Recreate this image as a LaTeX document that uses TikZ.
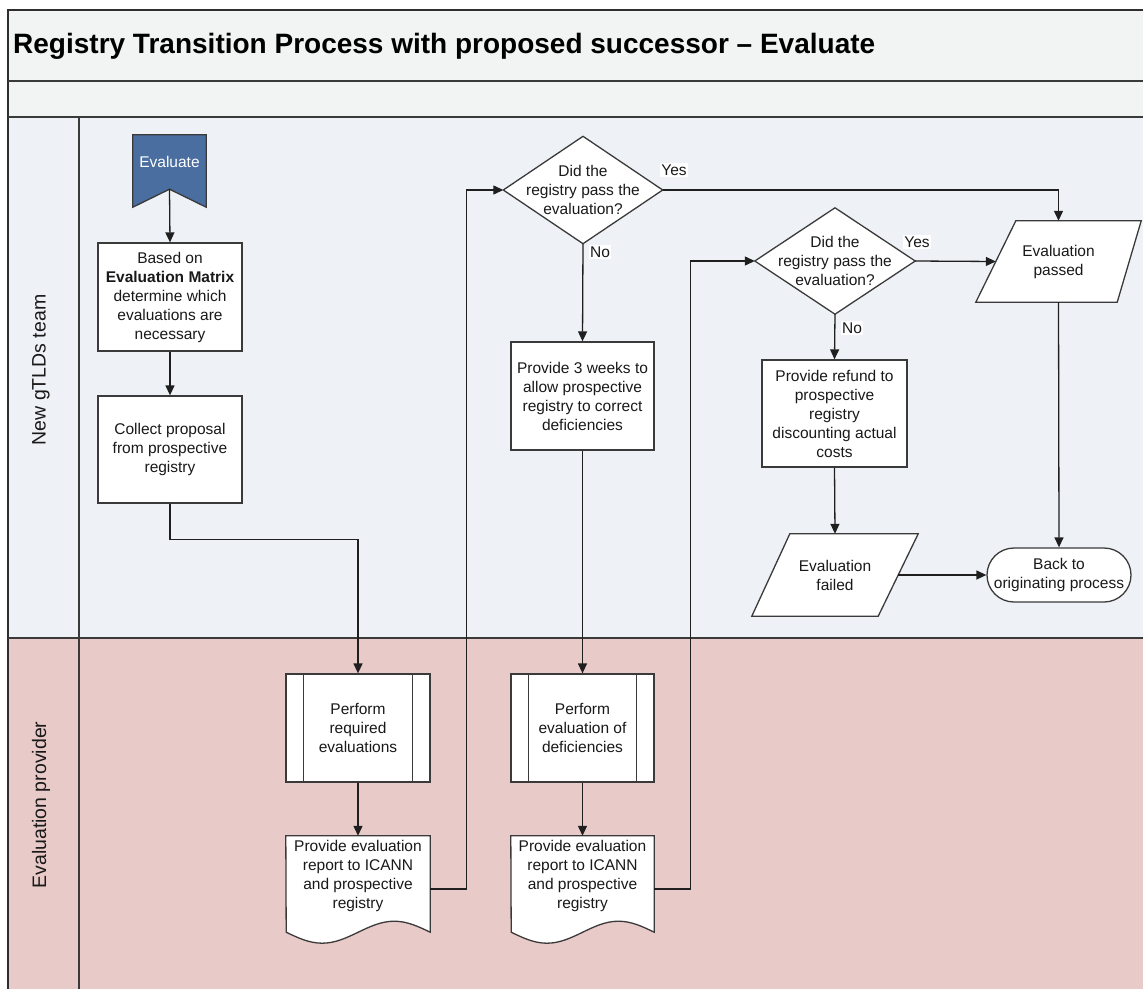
\documentclass[tikz,border=0pt]{standalone}
\usepackage{fontspec}
\setmainfont{Liberation Sans}
\usetikzlibrary{arrows.meta,calc}
\definecolor{laneA}{HTML}{EEF2F7}
\definecolor{laneB}{HTML}{E8CAC8}
\definecolor{hdr}{HTML}{F2F3F3}
\definecolor{bannerblue}{HTML}{4A6EA0}
\definecolor{edge}{HTML}{3A3A3A}
\definecolor{frameline}{HTML}{2E2E2E}
\pgfdeclarelayer{lanes}
\pgfdeclarelayer{shapes}
\pgfsetlayers{lanes,shapes,main}
\begin{document}
\begin{tikzpicture}[x=1pt,y=-1pt,
  txt/.style={font=\fontsize{15.5}{19}\selectfont, text=black!90},
  box/.style={txt, draw=edge, line width=1.3pt, fill=white, rectangle, align=center, inner sep=0pt},
  ghost/.style={txt, rectangle, align=center, inner sep=0pt},
  shp/.style={draw=edge, line width=1.3pt, fill=white},
  flow/.style={draw=black!88, line width=1.3pt, -{Triangle[length=10pt,width=9pt]}},
  lbl/.style={txt, fill=white, inner sep=1.5pt},
  lanetxt/.style={rotate=90, font=\fontsize{19.5}{22}\selectfont, text=black!90},
]
\useasboundingbox (0,0) rectangle (1143,988);

\begin{pgfonlayer}{lanes}
  \fill[hdr] (8,10) rectangle (1160,117);
  \fill[laneA] (8,117) rectangle (1160,638);
  \fill[laneB] (8,638) rectangle (1160,1000);
  \draw[line width=2pt, frameline] (1160,10) -- (8,10) -- (8,1000);
  \draw[line width=1.7pt, edge] (8,81) -- (1160,81);
  \draw[line width=1.7pt, edge] (8,117) -- (1160,117);
  \draw[line width=1.7pt, edge] (8,638) -- (1160,638);
  \draw[line width=1.5pt, edge] (79,117) -- (79,1000);
\end{pgfonlayer}

% title and lanes
\node[anchor=base west, inner sep=0pt, font=\fontsize{28}{32}\selectfont\bfseries, text=black] (title) at (13,53)
  {Registry Transition Process with proposed successor – Evaluate};
\node[lanetxt] (laneNew) at (41,370) {New gTLDs team};
\node[lanetxt] (laneEval) at (41,805) {Evaluation provider};

% start banner
\node[ghost, minimum width=73pt, minimum height=54pt, text=white] (evalS) at (169.5,162) {Evaluate};
\begin{pgfonlayer}{shapes}
  \draw[draw=edge, line width=1.3pt, fill=bannerblue] (evalS.north west) -- (evalS.north east)
    -- ($(evalS.south east)+(0,18)$) -- (evalS.south) -- ($(evalS.south west)+(0,18)$) -- cycle;
\end{pgfonlayer}

% New gTLDs lane
\node[box, minimum width=144pt, minimum height=108pt] (based) at (170,297)
  {Based on\\\textbf{Evaluation Matrix}\\determine which\\evaluations are\\necessary};
\node[box, minimum width=144pt, minimum height=107pt] (collect) at (170,449.5)
  {Collect proposal\\from prospective\\registry};

\node[ghost, minimum width=159pt, minimum height=107pt] (d1) at (583,190)
  {Did the\\registry pass the\\evaluation?};
\node[box, minimum width=143pt, minimum height=108pt] (prov3) at (582.5,396)
  {Provide 3 weeks to\\allow prospective\\registry to correct\\deficiencies};

\node[ghost, minimum width=160pt, minimum height=106pt] (d2) at (835,261)
  {Did the\\registry pass the\\evaluation?};
\node[box, minimum width=145pt, minimum height=107pt] (refund) at (834.5,413.5)
  {Provide refund to\\prospective\\registry\\discounting actual\\costs};
\node[ghost, minimum width=166pt, minimum height=82pt] (failed) at (835,575)
  {Evaluation\\failed};
\node[ghost, minimum width=165pt, minimum height=81pt] (passed) at (1058.5,261.5)
  {Evaluation\\passed};
\node[box, minimum width=144pt, minimum height=54pt, rounded corners=27pt] (back) at (1059,575)
  {Back to\\originating process};

% Evaluation provider lane
\node[box, minimum width=144pt, minimum height=108pt] (perf1) at (358,728)
  {Perform\\required\\evaluations};
\node[ghost, minimum width=144pt, minimum height=80pt] (doc1) at (358,876)
  {Provide evaluation\\report to ICANN\\and prospective\\registry};
\node[box, minimum width=143pt, minimum height=108pt] (perf2) at (582.5,728)
  {Perform\\evaluation of\\deficiencies};
\node[ghost, minimum width=143pt, minimum height=80pt] (doc2) at (582.5,876)
  {Provide evaluation\\report to ICANN\\and prospective\\registry};

\begin{pgfonlayer}{shapes}
  \draw[shp] (d1.west) -- (d1.north) -- (d1.east) -- (d1.south) -- cycle;
  \draw[shp] (d2.west) -- (d2.north) -- (d2.east) -- (d2.south) -- cycle;
  \draw[shp] (failed.south west) -- ($(failed.north west)+(38,0)$) -- (failed.north east)
    -- ($(failed.south east)+(-40,0)$) -- cycle;
  \draw[shp] (passed.south west) -- ($(passed.north west)+(40,0)$) -- (passed.north east)
    -- ($(passed.south east)+(-24,0)$) -- cycle;
  \draw[shp] (doc1.north west) -- (doc1.north east) -- ($(doc1.south east)+(0,16)$)
    sin ++(-36,-11) cos ++(-36,11) sin ++(-36,11) cos ++(-36,-11) -- cycle;
  \draw[shp] (doc2.north west) -- (doc2.north east) -- ($(doc2.south east)+(0,16)$)
    sin ++(-35.75,-11) cos ++(-35.75,11) sin ++(-35.75,11) cos ++(-35.75,-11) -- cycle;
\end{pgfonlayer}
% predefined-process side bars
\draw[draw=edge, line width=1.3pt] ($(perf1.north west)+(18,0)$) -- ($(perf1.south west)+(18,0)$);
\draw[draw=edge, line width=1.3pt] ($(perf1.north east)+(-18,0)$) -- ($(perf1.south east)+(-18,0)$);
\draw[draw=edge, line width=1.3pt] ($(perf2.north west)+(18,0)$) -- ($(perf2.south west)+(18,0)$);
\draw[draw=edge, line width=1.3pt] ($(perf2.north east)+(-18,0)$) -- ($(perf2.south east)+(-18,0)$);

\coordinate (passedIn) at ($(passed.west)+(20,0)$);
\coordinate (failedOut) at ($(failed.east)+(-20,0)$);

% connectors
\draw[flow] (evalS.south) -- (based.north);
\draw[flow] (based.south) -- (collect.north);
\draw[flow] (collect.south) -- ++(0,36) -| (perf1.north);
\draw[flow] (perf1.south) -- (doc1.north);
\draw[flow] ([yshift=-13pt]doc1.east) -- ++(36,0) |- (d1.west);
\draw[flow] (d1.east) -| (passed.north);
\draw[flow] (d1.south) -- (prov3.north);
\draw[flow] (prov3.south) -- (perf2.north);
\draw[flow] (perf2.south) -- (doc2.north);
\draw[flow] ([yshift=-13pt]doc2.east) -- ++(36,0) |- (d2.west);
\draw[flow] (d2.east) -- (passedIn);
\draw[flow] (d2.south) -- (refund.north);
\draw[flow] (refund.south) -- (failed.north);
\draw[flow] (failedOut) -- (back.west);
\draw[flow] (passed.south) -- (back.north);

% branch labels
\node[lbl] (yes1) at (674,170) {Yes};
\node[lbl] (no1) at (600,252) {No};
\node[lbl] (yes2) at (917,242) {Yes};
\node[lbl] (no2) at (852,328) {No};
\end{tikzpicture}
\end{document}
